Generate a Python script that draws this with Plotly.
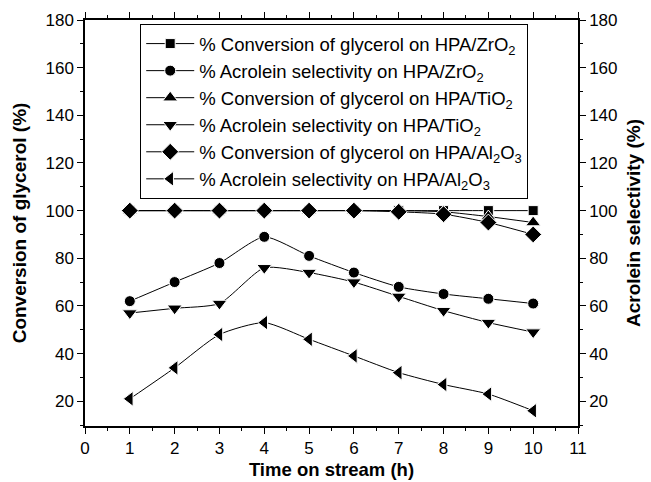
import plotly.graph_objects as go

time_h = [1, 2, 3, 4, 5, 6, 7, 8, 9, 10]
conv_zr = [100, 100, 100, 100, 100, 100, 100, 100, 100, 100]
sel_zr = [62, 70, 78, 89, 81, 74, 68, 65, 63, 61]
conv_ti = [100, 100, 100, 100, 100, 100, 100, 99.5, 97.5, 95]
sel_ti = [57, 59, 61, 76, 74, 70, 64, 58, 53, 49]
conv_al = [100, 100, 100, 100, 100, 100, 99.5, 98.5, 95, 90]
sel_al = [21, 34, 48, 53, 46, 39, 32, 27, 23, 16]

series = [
    ("% Conversion of glycerol on HPA/ZrO<sub>2</sub>", conv_zr, "square", "y", 10),
    ("% Acrolein selectivity on HPA/ZrO<sub>2</sub>", sel_zr, "circle", "y2", 11),
    ("% Conversion of glycerol on HPA/TiO<sub>2</sub>", conv_ti, "triangle-up", "y", 13),
    ("% Acrolein selectivity on HPA/TiO<sub>2</sub>", sel_ti, "triangle-down", "y2", 13),
    ("% Conversion of glycerol on HPA/Al<sub>2</sub>O<sub>3</sub>", conv_al, "diamond", "y", 13),
    ("% Acrolein selectivity on HPA/Al<sub>2</sub>O<sub>3</sub>", sel_al, "triangle-left", "y2", 13),
]

fig = go.Figure()
for name, vals, sym, ax, sz in series:
    fig.add_trace(go.Scatter(
        x=time_h, y=vals, name=name, yaxis=ax, mode="lines+markers",
        line=dict(color="black", width=1, shape="spline", smoothing=0.6),
        marker=dict(symbol=sym, size=sz, color="black",
                    line=dict(color="white", width=1)),
    ))

font = "Liberation Sans, Arial, sans-serif"
axis_common = dict(showline=True, linecolor="black", linewidth=1.5, ticks="outside",
                   ticklen=6, tickwidth=1, tickcolor="black", showgrid=False,
                   zeroline=False, automargin=False,
                   tickfont=dict(size=17, family=font, color="black"))

fig.update_layout(
    width=651, height=482,
    margin=dict(l=85, r=73, t=20, b=56),
    plot_bgcolor="white", paper_bgcolor="white",
    font=dict(family=font, color="black"),
    xaxis=dict(range=[0, 11], dtick=1, tick0=0, mirror="ticks",
               minor=dict(dtick=0.5, ticks="outside", ticklen=3, tickcolor="black"),
               title=dict(text="<b>Time on stream (h)</b>", font=dict(size=18.5, family=font), standoff=6),
               **axis_common),
    yaxis=dict(range=[9.6, 180], tickvals=[20, 40, 60, 80, 100, 120, 140, 160, 180],
               minor=dict(tickvals=[10, 30, 50, 70, 90, 110, 130, 150, 170], ticks="outside", ticklen=3, tickcolor="black"),
               title=dict(text="<b>Conversion of glycerol (%)</b>", font=dict(size=19, family=font), standoff=14),
               **axis_common),
    yaxis2=dict(range=[9.6, 180], tickvals=[20, 40, 60, 80, 100, 120, 140, 160, 180],
                minor=dict(tickvals=[10, 30, 50, 70, 90, 110, 130, 150, 170], ticks="outside", ticklen=3, tickcolor="black"),
                overlaying="y", side="right",
                title=dict(text="<b>Acrolein selectivity (%)</b>", font=dict(size=19, family=font), standoff=10),
                **axis_common),
    legend=dict(x=0.112, y=0.99, xanchor="left", yanchor="top",
                bordercolor="black", borderwidth=1, bgcolor="white",
                font=dict(size=18.5, family=font, color="black"),
                tracegroupgap=0, itemwidth=48),
    showlegend=True,
)

fig.write_html("out.html")
